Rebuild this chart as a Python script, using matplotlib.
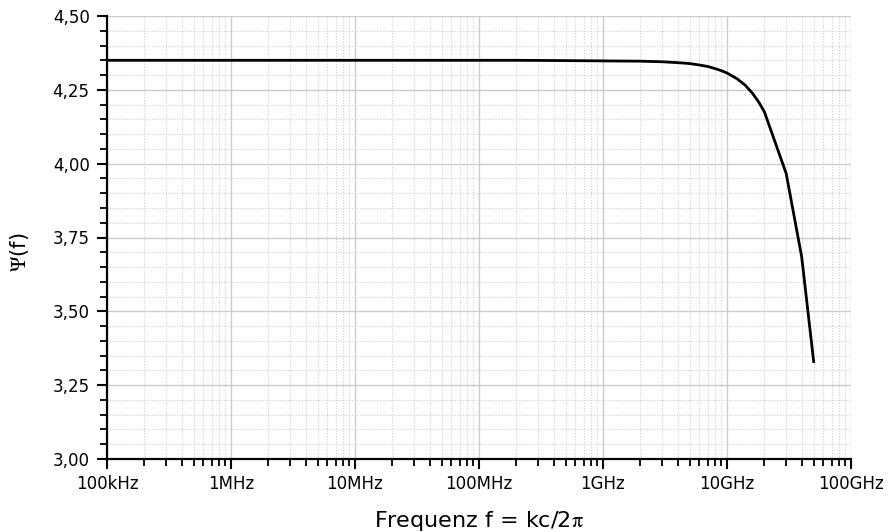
import matplotlib
matplotlib.use("Agg")
import matplotlib.pyplot as plt
from matplotlib.ticker import FixedLocator, LogLocator, FuncFormatter, MultipleLocator, NullFormatter

plt.rcParams['font.family'] = ['DejaVu Sans']
plt.rcParams['mathtext.fontset'] = 'stix'

# Data (frequency in Hz, Psi values)
freq_hz = [1e5, 1e6, 1e7, 1e8, 2e8, 5e8, 1e9, 2e9, 3e9, 4e9, 5e9, 6e9, 7e9, 8e9, 9e9,
           1e10, 1.2e10, 1.4e10, 1.6e10, 1.8e10, 2e10, 3e10, 4e10, 5e10]
psi = [4.350, 4.350, 4.350, 4.350, 4.350, 4.349, 4.348, 4.347, 4.345, 4.342, 4.339, 4.334,
       4.329, 4.322, 4.315, 4.307, 4.288, 4.266, 4.239, 4.209, 4.176, 3.967, 3.685, 3.330]

x_ticks = [1e5, 1e6, 1e7, 1e8, 1e9, 1e10, 1e11]
x_ticklabels = ["100kHz", "1MHz", "10MHz", "100MHz", "1GHz", "10GHz", "100GHz"]
y_ticks = [3.00, 3.25, 3.50, 3.75, 4.00, 4.25, 4.50]

fig = plt.figure(figsize=(8.9, 5.32), dpi=100)
ax = fig.add_axes([107/890, 1 - 459/532, (851 - 107)/890, (459 - 16)/532])

ax.plot(freq_hz, psi, color='black', lw=2.0, solid_joinstyle='round', zorder=5)

ax.set_xscale('log')
ax.set_xlim(1e5, 1e11)
ax.set_ylim(3.0, 4.5)

ax.xaxis.set_major_locator(FixedLocator(x_ticks))
ax.set_xticklabels(x_ticklabels)
ax.xaxis.set_minor_locator(LogLocator(base=10, subs=range(2, 10), numticks=50))
ax.xaxis.set_minor_formatter(NullFormatter())

ax.yaxis.set_major_locator(FixedLocator(y_ticks))
ax.yaxis.set_major_formatter(FuncFormatter(lambda v, p: f"{v:.2f}".replace('.', ',')))
ax.yaxis.set_minor_locator(MultipleLocator(0.05))

ax.grid(which='major', color='#cccccc', lw=1.0, ls='-')
ax.grid(which='minor', color='#cfcfcf', lw=0.8, ls=(0, (1, 1.5)))
ax.set_axisbelow(True)

for s in ['top', 'right']:
    ax.spines[s].set_visible(False)
for s in ['left', 'bottom']:
    ax.spines[s].set_linewidth(1.6)
    ax.spines[s].set_zorder(6)

ax.tick_params(which='major', direction='out', length=7.5, width=1.5, labelsize=12, colors='black')
ax.tick_params(which='minor', direction='out', length=5, width=1.3)
ax.tick_params(axis='x', which='major', pad=4)
ax.tick_params(axis='y', which='major', pad=5)

ax.set_xlabel("Frequenz f = kc/2$\\mathrm{\\pi}$", fontsize=16)
ax.xaxis.set_label_coords(0.5, -0.113)
ax.set_ylabel("$\\mathrm{\\Psi}$(f)", fontsize=15)
ax.yaxis.set_label_coords(-0.102, 0.467)

fig.savefig("out.png", dpi=100)
